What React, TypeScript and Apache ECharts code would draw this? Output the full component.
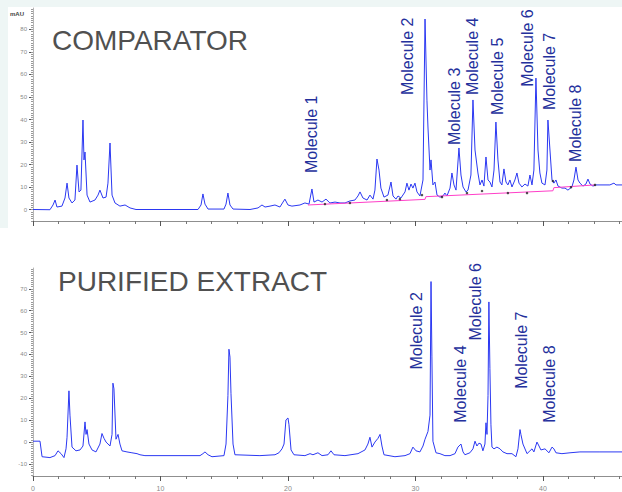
import React, { useEffect, useRef } from "react";
import * as echarts from "echarts";

// Retention time (min) / absorbance (mAU)
const comparatorTrace: [number, number][] = [
  [0, 0.1], [1.33, 0], [1.57, 2.1], [1.73, 4.3], [1.88, 1.2], [2.27, 1.6], [2.51, 5.2], [2.67, 11.8], [2.82, 5.2],
  [3.06, 3.0], [3.29, 4.3], [3.45, 19.8], [3.61, 7.9], [3.76, 8.7], [3.92, 39.8], [4.0, 22.1], [4.08, 25.6],
  [4.24, 6.5], [4.47, 3.4], [4.86, 4.3], [5.1, 6.5], [5.25, 8.7], [5.49, 5.2], [5.73, 5.6], [5.88, 11.8],
  [6.04, 29.6], [6.2, 6.5], [6.43, 3.0], [6.82, 1.6], [7.22, 2.1], [7.61, 0.8], [8.08, 0.1], [12.94, 0.1],
  [13.18, 2.1], [13.33, 7.0], [13.49, 2.5], [13.73, 0.3], [14.98, 0.3], [15.14, 2.5], [15.29, 7.4], [15.45, 2.1],
  [15.69, 0.3], [17.02, 0.1], [17.65, 0.8], [17.96, 2.1], [18.2, 1.2], [18.59, 1.6], [18.98, 2.1], [19.37, 1.2],
  [19.61, 3.4], [19.76, 4.7], [20.0, 2.1], [20.31, 1.6], [20.94, 2.1], [21.33, 3.0], [21.65, 2.5], [21.88, 9.2],
  [22.04, 3.4], [22.35, 4.3], [22.67, 3.4], [22.98, 4.7], [23.29, 3.0], [23.69, 3.4], [24.08, 3.0], [24.47, 3.0],
  [24.86, 3.9], [25.25, 4.3], [25.49, 6.1], [25.65, 7.9], [25.88, 5.2], [26.2, 4.3], [26.43, 6.5], [26.67, 4.7],
  [26.82, 8.7], [26.98, 22.5], [27.14, 17.6], [27.29, 9.6], [27.53, 5.6], [27.84, 6.5], [28.08, 12.3], [28.24, 6.1],
  [28.47, 4.7], [28.63, 6.1], [28.86, 5.2], [29.18, 7.9], [29.33, 11.8], [29.49, 8.7], [29.65, 11.4], [29.8, 9.6],
  [29.96, 11.8], [30.12, 7.9], [30.35, 6.1], [30.59, 13.2], [30.75, 84.6], [30.9, 48.6], [30.98, 36.7], [31.14, 17.6],
  [31.22, 22.1], [31.37, 11.0], [31.53, 12.3], [31.69, 6.5], [31.92, 5.6], [32.16, 6.1], [32.31, 7.4], [32.47, 6.1],
  [32.71, 9.6], [32.86, 16.3], [33.02, 11.0], [33.18, 8.7], [33.41, 27.4], [33.57, 15.4], [33.73, 10.1], [33.96, 7.9],
  [34.12, 8.7], [34.35, 15.4], [34.51, 48.7], [34.67, 26.5], [34.9, 16.3], [35.06, 11.0], [35.22, 13.2], [35.37, 10.5],
  [35.53, 23.4], [35.69, 13.2], [35.84, 12.3], [36.0, 10.1], [36.16, 17.6], [36.31, 38.9], [36.47, 22.1], [36.63, 12.3],
  [36.78, 11.0], [36.94, 18.1], [37.1, 12.3], [37.25, 11.0], [37.41, 13.2], [37.57, 10.1], [37.8, 13.2], [37.96, 16.3],
  [38.12, 11.8], [38.35, 10.1], [38.59, 11.4], [38.82, 10.5], [38.98, 15.4], [39.14, 11.0], [39.29, 17.6], [39.45, 58.4],
  [39.61, 26.5], [39.76, 16.3], [39.92, 11.8], [40.16, 11.0], [40.31, 17.6], [40.39, 39.8], [40.55, 26.5], [40.71, 13.2],
  [40.86, 11.8], [41.02, 13.2], [41.18, 10.5], [41.49, 9.6], [41.73, 9.6], [41.96, 8.7], [42.27, 10.1], [42.43, 13.2],
  [42.59, 18.9], [42.75, 13.2], [42.9, 11.8], [43.14, 10.5], [43.37, 11.4], [43.53, 13.6], [43.69, 11.4], [43.92, 10.5],
  [44.16, 11.0], [45.25, 11.0], [45.57, 11.8], [45.73, 11.0], [46.2, 11.0],
];

const comparatorBaseline: [number, number][] = [
  [21.57, 2.1], [30.75, 4.6], [30.82, 5.8], [40.78, 8.4], [40.86, 9.8], [44.08, 11.0],
];

const comparatorMarks: [number, number][] = [
  [22.9, 2.5], [24.86, 3.0], [27.76, 4.3], [28.78, 4.7], [30.51, 6.5], [32.08, 5.6], [34.04, 7.4],
  [35.22, 8.3], [37.25, 7.4], [38.75, 7.4], [40.78, 12.7], [42.2, 10.0], [44.08, 11.0],
];

const extractTrace: [number, number][] = [
  [0, 0.4], [0.55, 0.4], [0.71, -6.7], [1.33, -7.1], [1.73, -6.2], [1.96, -4.0], [2.2, -5.3], [2.43, -7.1],
  [2.59, -3.1], [2.67, 2.2], [2.82, 23.4], [2.9, 12.3], [3.06, -2.3], [3.37, -4.0], [3.69, -3.6], [3.92, -1.8],
  [4.08, 9.2], [4.16, 3.5], [4.24, 5.7], [4.39, -0.9], [4.63, -3.6], [4.94, -4.5], [5.25, -0.9], [5.41, 3.9],
  [5.57, 1.7], [5.73, 0], [6.04, -1.8], [6.2, 3.5], [6.27, 26.9], [6.35, 24.3], [6.51, 1.3], [6.67, 3.5],
  [6.82, -0.9], [6.98, -4.0], [7.37, -4.5], [7.76, -4.9], [8.16, -5.3], [8.39, -5.8], [8.78, -6.2], [13.1, -6.2],
  [13.33, -5.3], [13.49, -4.5], [13.73, -5.8], [14.04, -6.7], [14.98, -6.2], [15.14, -0.9], [15.29, 21.2], [15.37, 42.4],
  [15.45, 38.8], [15.53, 22.1], [15.69, -0.9], [15.84, -5.8], [17.8, -6.2], [18.98, -5.8], [19.29, -4.9], [19.53, -3.1],
  [19.69, -0.9], [19.84, 10.1], [20.0, 11.0], [20.08, 7.9], [20.24, -3.6], [20.47, -5.8], [21.33, -6.2], [21.73, -5.3],
  [21.96, -5.8], [22.35, -4.9], [22.67, -6.2], [23.14, -5.8], [23.37, -4.0], [23.61, -5.8], [24.47, -6.2], [25.49, -5.3],
  [26.04, -3.6], [26.27, -0.9], [26.43, 2.2], [26.59, -2.3], [26.82, 0], [27.06, 1.7], [27.22, 3.5], [27.37, -1.8],
  [27.53, -5.8], [28.39, -6.7], [29.18, -6.2], [29.57, -5.3], [29.8, -2.3], [30.04, -4.0], [30.35, -4.5], [30.59, -1.8],
  [30.75, 1.3], [30.98, 4.8], [31.14, 12.3], [31.22, 73.3], [31.29, 38.9], [31.37, 0.4], [31.61, -4.9], [31.92, -5.3],
  [32.31, -6.2], [32.71, -6.2], [33.1, -5.3], [33.33, -2.3], [33.57, -0.9], [33.73, -4.5], [33.88, -5.8], [34.27, -4.9],
  [34.51, -3.1], [34.67, 0.4], [34.82, -1.8], [34.98, -0.5], [35.14, -0.9], [35.29, -4.0], [35.45, -0.9], [35.53, 8.8],
  [35.61, 3.5], [35.69, 21.2], [35.76, 64.0], [35.84, 33.5], [35.92, 7.9], [36.0, -2.3], [36.16, -3.1], [36.39, -2.3],
  [36.63, -3.1], [36.86, -4.5], [37.18, -5.3], [37.57, -5.3], [37.88, -6.7], [38.04, -3.1], [38.2, 5.7], [38.27, 3.5],
  [38.43, -0.9], [38.75, -5.3], [38.98, -4.0], [39.14, -3.1], [39.29, -4.5], [39.53, 0], [39.69, -1.8], [39.84, -3.6],
  [40.16, -3.1], [40.47, -4.9], [40.71, -2.3], [40.86, -3.1], [41.02, -4.9], [41.49, -5.3], [42.12, -4.9], [42.9, -4.5],
  [44.47, -4.5], [46.2, -4.5],
];

const comparatorPeakNames = ["Molecule 1", "Molecule 2", "Molecule 3", "Molecule 4", "Molecule 5", "Molecule 6", "Molecule 7", "Molecule 8"];
// anchor = (time, mAU) where each vertical label starts
const comparatorPeakAnchors: [number, number][] = [
  [21.88, 16.3], [29.41, 50.9], [33.1, 28.7], [34.51, 50.9], [36.47, 42.0], [38.82, 54.6], [40.55, 44.2], [42.59, 21.2],
];
const extractPeakNames = ["Molecule 2", "Molecule 4", "Molecule 6", "Molecule 7", "Molecule 8"];
const extractPeakAnchors: [number, number][] = [
  [30.12, 33.1], [33.57, 8.8], [34.74, 46.4], [38.35, 24.3], [40.55, 8.8],
];

const comparatorYLabels = [0, 10, 20, 30, 40, 50, 60, 70, 80];
const extractYLabels = [-10, 0, 10, 20, 30, 40, 50, 60, 70];
const timeLabels = [0, 10, 20, 30, 40];

const TIME_MAX = 46.2;
const LINE_BLUE = "#2b38f2";
const LABEL_BLUE = "#24309c";
const FONT = "Liberation Sans, Arial, sans-serif";

function range(a: number, b: number, step: number) {
  const out: number[] = [];
  for (let v = a; v <= b + 1e-9; v += step) out.push(Math.round(v * 100) / 100);
  return out;
}

function yAxesFor(grid: number, min: number, max: number, labels: number[]) {
  return [
    {
      type: "value", gridIndex: grid, min, max, position: "left",
      splitLine: { show: false },
      axisLine: { show: true, lineStyle: { color: "#b5b5b5", width: 1 } },
      axisTick: { show: true, customValues: labels, length: 4, lineStyle: { color: "#555" } },
      axisLabel: { show: true, customValues: labels, fontSize: 6, color: "#8a8a8a", margin: 6, fontFamily: FONT },
    },
    {
      type: "value", gridIndex: grid, min, max, position: "left",
      splitLine: { show: false },
      axisLine: { show: false },
      axisTick: { show: true, customValues: range(Math.ceil(min), Math.floor(max), 1), length: 2, lineStyle: { color: "#9a9a9a" } },
      axisLabel: { show: false },
    },
  ];
}

function xAxesFor(grid: number, showLabels: boolean) {
  return [
    {
      type: "value", gridIndex: grid, min: 0, max: TIME_MAX, position: "bottom",
      splitLine: { show: false },
      axisLine: { show: true, onZero: false, lineStyle: { color: "#8f8f8f", width: 1 } },
      axisTick: { show: true, customValues: range(0, 46, 2), length: 3, lineStyle: { color: "#777" } },
      axisLabel: { show: false },
    },
    {
      type: "value", gridIndex: grid, min: 0, max: TIME_MAX, position: "bottom",
      splitLine: { show: false },
      axisLine: { show: false, onZero: false },
      axisTick: { show: true, customValues: timeLabels, length: 5, lineStyle: { color: "#555" } },
      axisLabel: { show: showLabels, customValues: timeLabels, fontSize: 7, color: "#8a8a8a", margin: 9, fontFamily: FONT },
    },
  ];
}

export default function App() {
  const ref = useRef<HTMLDivElement>(null);

  useEffect(() => {
    if (!ref.current) return;
    const chart = echarts.init(ref.current, null, { renderer: "svg" });

    const option: any = {
      animation: false,
      backgroundColor: "#ffffff",
      grid: [
        { left: 33, right: 0, top: 8, height: 213, containLabel: false },
        { left: 33, right: 0, top: 268, height: 215, containLabel: false },
      ],
      xAxis: [...xAxesFor(0, false), ...xAxesFor(1, true)],
      yAxis: [...yAxesFor(0, -5, 89.5, comparatorYLabels), ...yAxesFor(1, -15.5, 79.5, extractYLabels)],
      series: [
        {
          type: "line", name: "Comparator", xAxisIndex: 0, yAxisIndex: 0, data: comparatorTrace,
          showSymbol: false, symbol: "none", lineStyle: { color: LINE_BLUE, width: 1 }, z: 3,
        },
        {
          type: "line", name: "Baseline", xAxisIndex: 0, yAxisIndex: 0, data: comparatorBaseline,
          showSymbol: false, symbol: "none", lineStyle: { color: "#ff3fc8", width: 1 }, z: 4,
        },
        {
          type: "scatter", name: "Marks", xAxisIndex: 0, yAxisIndex: 0, data: comparatorMarks,
          symbolSize: 2.5, itemStyle: { color: "#222" }, z: 5,
        },
        {
          type: "line", name: "Purified extract", xAxisIndex: 2, yAxisIndex: 2, data: extractTrace,
          showSymbol: false, symbol: "none", lineStyle: { color: LINE_BLUE, width: 1 }, z: 3,
        },
      ],
    };
    chart.setOption(option);

    const peakText = (names: string[], anchors: [number, number][], xi: number, yi: number) =>
      names.map((name, i) => {
        const p = chart.convertToPixel({ xAxisIndex: xi, yAxisIndex: yi } as any, anchors[i]) as number[];
        return {
          type: "text", x: p[0], y: p[1], rotation: Math.PI / 2, z: 10,
          style: { text: name, fill: LABEL_BLUE, font: `16px ${FONT}`, align: "left", verticalAlign: "middle" },
        };
      });

    chart.setOption({
      graphic: [
        { type: "rect", shape: { x: 0, y: 0, width: 622, height: 7 }, style: { fill: "#eef6f5" }, z: -1, silent: true },
        { type: "rect", shape: { x: 0, y: 0, width: 8, height: 228 }, style: { fill: "#eef6f5" }, z: -1, silent: true },
        { type: "text", x: 10, y: 14, style: { text: "mAU", fill: "#444", font: `bold 6px ${FONT}`, verticalAlign: "middle" } },
        { type: "text", x: 52, y: 40, style: { text: "COMPARATOR", fill: "#505050", font: `28px ${FONT}`, verticalAlign: "middle" } },
        { type: "text", x: 58, y: 281, style: { text: "PURIFIED EXTRACT", fill: "#505050", font: `28px ${FONT}`, verticalAlign: "middle" } },
        ...peakText(comparatorPeakNames, comparatorPeakAnchors, 0, 0),
        ...peakText(extractPeakNames, extractPeakAnchors, 2, 2),
      ],
    });

    return () => chart.dispose();
  }, []);

  return (
    <div
      ref={ref}
      style={{ position: "fixed", left: 0, top: 0, width: 622, height: 492, background: "#fff" }}
    />
  );
}
